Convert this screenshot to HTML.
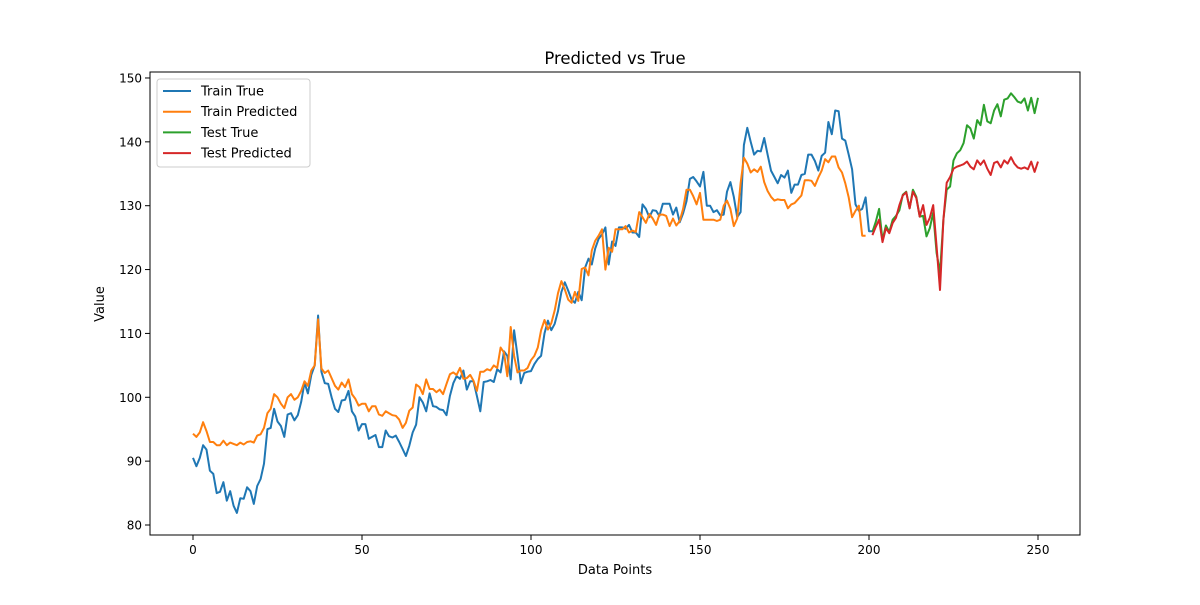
<!DOCTYPE html>
<html><head><meta charset="utf-8"><style>
body{margin:0;background:#fff;font-family:"Liberation Sans","DejaVu Sans",sans-serif}
svg text{font-family:"DejaVu Sans","Liberation Sans",sans-serif;fill:#000}
</style></head><body>
<svg id="chart" width="1200" height="600" xmlns="http://www.w3.org/2000/svg"></svg>
<script>
const trainTrue=[90.5,89.2,90.5,92.5,91.8,88.5,88,85,85.2,86.7,83.8,85.3,83,81.9,84.2,84.1,85.9,85.3,83.3,86.1,87.2,89.6,95,95.2,98.2,96.2,95.5,93.8,97.3,97.5,96.4,97.2,99.3,102.3,100.6,103.5,105,112.8,104,102.2,102.1,100,98.2,97.7,99.5,99.6,101,97.8,97,94.8,95.8,95.8,93.5,93.8,94.1,92.2,92.2,94.8,93.9,93.7,94,93,91.9,90.8,92.4,94.5,95.7,100,99.2,97.8,100.6,98.6,98.5,98.1,98,97.2,100.2,102.2,103.3,102.9,104.2,101.2,102.5,102.5,100.2,97.8,102.4,102.5,102.7,102.4,104.4,103.9,107.2,106.5,102.8,110.5,106.5,102.2,103.8,104,104.1,105.2,106,106.5,110,112,110.5,111.5,113.5,116.5,118,116.7,115.3,114.8,116.5,115.2,120.3,121.7,120.8,123.3,124.8,125.5,126.6,120.8,124.4,123.7,126.6,126.6,126.4,127,125.8,125.8,125.1,130.2,129.5,128.2,129.3,129.2,128.4,130.3,130.3,130.3,128.6,129.7,127.4,128.8,130.7,134.2,134.5,133.8,133,135.3,130,130,129,129.3,128.5,128.6,132.2,133.7,131.4,128.2,129,139.5,142.2,140,138,138.6,138.5,140.6,138,135.5,134.5,133.5,134.8,134.4,135.5,132,133.3,133.3,134.8,135,138,138,137,135.5,137.8,138.3,143.1,141.2,144.9,144.8,140.5,140.2,138,135.7,130.2,129.2,129.5,131.3,126,126];
const trainPred=[94.3,93.8,94.5,96.1,94.7,93,93,92.5,92.5,93.2,92.5,92.9,92.7,92.5,92.9,92.6,93,93.1,92.9,94,94.2,95.2,97.5,98.2,100.5,100,99,98.3,100,100.5,99.6,100,101,102.5,101.8,104.2,105,112.2,104.5,103.8,104.2,103,101.8,101.2,102.3,101.6,102.8,100.5,99.8,98.7,99,99,97.8,98.6,98.6,97.3,97.1,97.8,97.5,97.2,97.1,96.5,95.2,96,97.9,98.4,102,101.6,100.5,102.8,101.3,101.3,100.8,101.2,100.5,102.1,103.6,103.9,103.5,104.6,102.9,103,103.5,102.6,101,104,104,104.4,104.2,105,104.6,107.8,107,103.3,111,106.5,103.9,104.2,104.2,104.6,105.8,106.5,107.8,110.5,112.1,110.6,111.6,113.6,116.3,118.2,116.9,115.3,114.8,116.5,115.1,120.1,120.3,119.1,123,124.5,125.3,126.3,120,123.4,122.8,126.3,126.3,126.3,126.8,125.8,126.1,125.9,129,128.2,127.3,128.7,128,127,128.6,128.6,128.4,126.8,128,126.9,127.6,129.5,132.5,132.5,131.5,130.2,132,127.8,127.8,127.8,127.8,127.6,127.8,130,130.8,129.5,126.8,128,133.5,137.5,136.6,135.2,135.7,135.3,136.1,133.7,132.3,131.4,130.8,131,130.9,130.9,129.6,130.2,130.4,131,131.6,134,134,133.9,133.1,134.4,135.5,137.3,136.8,137.7,137.7,136,135.2,133.5,131.3,128.2,129.2,130,125.3,125.3];
const testStart=201;
const testTrue=[125.9,127.5,129.5,124.6,126.9,125.9,127.8,128.4,129.3,131.7,132.2,129.6,132.5,131.4,128.3,128.4,125.2,126.5,128.9,122.6,119.5,127.8,132.5,133.0,137.1,138.2,138.7,139.8,142.6,142.1,140.5,143.4,142.6,145.8,143.2,142.9,144.9,145.9,144,146.6,146.8,147.6,147.0,146.3,146.1,146.8,144.9,146.9,144.5,146.9];
const testPred=[125.4,126.7,127.8,124.3,126.5,125.7,127.3,128.1,130.1,131.6,132.1,129.6,132.2,131.2,128.3,130.1,127,128.1,130.1,123.6,116.8,127.8,133.6,134.5,135.8,136.1,136.3,136.5,136.9,136.1,135.7,137.1,136.4,137.1,135.8,134.8,136.7,136.9,136,137.1,136.6,137.6,136.6,136,135.8,136,135.7,136.9,135.3,136.9];
const xTicks=[0,50,100,150,200,250];
const yTicks=[80,90,100,110,120,130,140,150];

const svg=document.getElementById('chart');
const NS='http://www.w3.org/2000/svg';
const L=150,R=1080,T=72,B=535;
const X=i=>193+i*3.38;
const Y=v=>525-(v-80)*6.386;
function mk(tag,attrs,parent){const e=document.createElementNS(NS,tag);for(const k in attrs)e.setAttribute(k,attrs[k]);(parent||svg).appendChild(e);return e;}
function txt(s,attrs){const t=mk('text',attrs);t.textContent=s;return t;}

const title=txt('Predicted vs True',{x:615,y:64,'text-anchor':'middle','font-size':16.5});



function series(vals,start,color,name){
  const d=vals.map((v,i)=>(i?'L':'M')+X(start+i).toFixed(1)+','+Y(v).toFixed(1)).join(' ');
  const p=mk('path',{d:d,fill:'none',stroke:color,'stroke-width':2,'stroke-linejoin':'round'});
  
  
}
series(trainTrue,0,'#1f77b4','train-true-line');
series(trainPred,0,'#ff7f0e','train-predicted-line');
series(testTrue,testStart,'#2ca02c','test-true-line');
series(testPred,testStart,'#d62728','test-predicted-line');

const frame=mk('rect',{x:L,y:T,width:R-L,height:B-T,fill:'none',stroke:'#000','stroke-width':1});



xTicks.forEach(v=>{
  mk('line',{x1:X(v),x2:X(v),y1:B,y2:B+5,stroke:'#000'});
  const t=txt(String(v),{x:X(v),y:B+19,'text-anchor':'middle','font-size':12});
  
  
});
yTicks.forEach(v=>{
  mk('line',{x1:L-5,x2:L,y1:Y(v),y2:Y(v),stroke:'#000'});
  const t=txt(String(v),{x:L-8,y:Y(v)+4.5,'text-anchor':'end','font-size':12});
  
  
});
const xl=txt('Data Points',{x:615,y:574,'text-anchor':'middle','font-size':13});


const yl=txt('Value',{x:0,y:0,'text-anchor':'middle','font-size':13,transform:'translate(104,304) rotate(-90)'});



const lg=mk('g',{});


mk('rect',{x:157,y:79,width:153,height:88,rx:3,fill:'#fff',stroke:'#ccc'},lg);
[['Train True','#1f77b4'],['Train Predicted','#ff7f0e'],['Test True','#2ca02c'],['Test Predicted','#d62728']].forEach((e,i)=>{
  const y=91+i*20.7;
  const g=mk('g',{},lg);
  
  
  mk('line',{x1:163,x2:191,y1:y,y2:y,stroke:e[1],'stroke-width':2},g);
  const t=mk('text',{x:201,y:y+4.5,'font-size':13},g);t.textContent=e[0];
});
</script>
</body></html>
